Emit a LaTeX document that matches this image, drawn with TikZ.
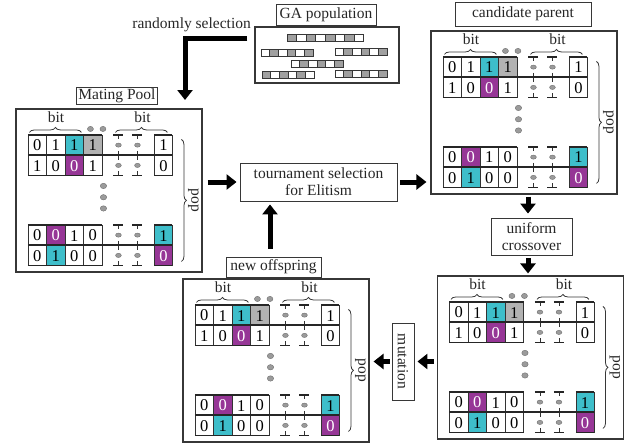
\documentclass[tikz,border=0pt]{standalone}
\usepackage{fontspec}
\setmainfont{Liberation Serif}
\usetikzlibrary{arrows.meta,decorations.pathreplacing,calc}

\definecolor{cellcyan}{RGB}{62,190,202}
\definecolor{cellpurple}{RGB}{150,54,150}
\definecolor{cellgray}{RGB}{178,178,178}
\definecolor{linegray}{RGB}{55,55,55}
\definecolor{dotgray}{RGB}{155,155,155}
\definecolor{dotedge}{RGB}{110,110,110}
\definecolor{barg}{RGB}{160,160,160}

\tikzset{
  lbl/.style={font=\fontsize{15.5}{17}\selectfont, inner sep=0pt, text=black!85},
  titlebox/.style={draw=linegray, line width=0.9pt, inner sep=0pt, align=center,
    font=\fontsize{15.5}{17}\selectfont, text=black!85},
  panel/.style={draw=linegray, line width=1.1pt, minimum width=186pt,
    minimum height=163pt, inner sep=0pt},
  hline/.style={line width=1.7pt, draw=black!85},
  vline/.style={line width=0.9pt, draw=black!80},
  digit/.style={font=\fontsize{16.5}{17}\selectfont, inner sep=0pt},
  dot/.style={fill=dotgray, draw=dotedge, line width=0.4pt},
  bigarrow/.style={line width=5pt, draw=black, line join=miter,
    -{Triangle[length=10pt,width=15pt]}},
  brc/.style={decorate, decoration={brace, amplitude=5pt}, line width=0.8pt, draw=linegray},
  barcell/.style={draw=linegray, line width=0.8pt},
}

% two-row bit matrix: #1 name prefix, #2 top y, #3 row 1 cells, #4 row 1 last cell,
% #5 row 2 cells, #6 row 2 last cell
\newcommand\bitmat[6]{%
  \pgfmathsetmacro\rT{#2}%
  \pgfmathsetmacro\rM{#2+20.3}%
  \pgfmathsetmacro\rB{#2+40.6}%
  \foreach \dg/\fc/\tc [count=\i from 0] in {#3}{%
    \fill[\fc] ({12.5+18.5*\i},\rT) rectangle ++(18.5,20.3);
    \node[digit,text=\tc] (#1-a\i) at ({21.75+18.5*\i},{\rT+10.6}) {\dg};}
  \foreach \dg/\fc/\tc in {#4}{%
    \fill[\fc] (139,\rT) rectangle (157,\rM);
    \node[digit,text=\tc] (#1-ae) at (148,{\rT+10.6}) {\dg};}
  \foreach \dg/\fc/\tc [count=\i from 0] in {#5}{%
    \fill[\fc] ({12.5+18.5*\i},\rM) rectangle ++(18.5,20.3);
    \node[digit,text=\tc] (#1-b\i) at ({21.75+18.5*\i},{\rM+10.6}) {\dg};}
  \foreach \dg/\fc/\tc in {#6}{%
    \fill[\fc] (139,\rM) rectangle (157,\rB);
    \node[digit,text=\tc] (#1-be) at (148,{\rM+10.6}) {\dg};}
  \foreach \x in {12.5,31,49.5,68,86.5,139,157}
    \draw[vline] (\x,\rT) -- (\x,\rB);
  \foreach \x in {103,122}{%
    \draw[vline] (\x,\rT) -- ++(0,4.5) (\x,{\rM-4.5}) -- ++(0,9) (\x,\rB) -- ++(0,-4.5);
    \path[dot] (\x,{\rT+10.15}) ellipse (2.9pt and 2.1pt)
               (\x,{\rM+10.15}) ellipse (2.9pt and 2.1pt);}
  \draw[hline] (12.5,\rT) -- (87,\rT) (98,\rT) -- (108,\rT) (117,\rT) -- (127,\rT)
               (139,\rT) -- (157,\rT);
  \draw[hline] (12.5,\rM) -- (157,\rM);
  \draw[hline] (12.5,\rB) -- (87,\rB) (98,\rB) -- (108,\rB) (117,\rB) -- (127,\rB)
               (139,\rB) -- (157,\rB);
}

% contents of one population panel, drawn from its top left corner
\newcommand\panelbody[1]{%
  \draw[brc] (14,24) -- (66,24);
  \node[lbl] (#1-bitl) at (40.5,9) {bit};
  \draw[brc] (100,24) -- (152,24);
  \node[lbl] (#1-bitr) at (127,9) {bit};
  \path[dot] (75,20.5) ellipse (3pt and 2.6pt) (87.5,20.5) ellipse (3pt and 2.6pt);
  \foreach \yy in {77.5,88.8,100} \path[dot] (88,\yy) ellipse (3.2pt and 2.7pt);
  \draw[brc] (166,31) -- (166,153);
  \node[lbl, rotate=-90] (#1-pop) at (178,92) {pop};
  \bitmat{#1-t}{26.5}%
    {0/white/black,1/white/black,1/cellcyan/black,1/cellgray/black}{1/white/black}%
    {1/white/black,0/white/black,0/cellpurple/white,1/white/black}{0/white/black}
  \bitmat{#1-b}{116.5}%
    {0/white/black,0/cellpurple/white,1/white/black,0/white/black}{1/cellcyan/black}%
    {0/white/black,1/cellcyan/black,0/white/black,0/white/black}{0/cellpurple/white}
}

% one chromosome bar: #1 x, #2 y, #3 cell width, #4 cell colours
\newcommand\chromo[4]{%
  \foreach \cc [count=\i from 0] in {#4}
    \draw[barcell, fill=\cc] ({#1+#3*\i},#2) rectangle ++(#3,7);
}

\begin{document}
\begin{tikzpicture}[x=1pt, y=-1pt]
\useasboundingbox (0,0) rectangle (639,447);

% GA population
\node[titlebox, minimum width=100pt, minimum height=21pt] (gatitle) at (326,14.5) {GA population};
\node[draw=linegray, line width=1.1pt, minimum width=144pt, minimum height=56pt, inner sep=0pt] (pop) at (327,55) {};
\chromo{287}{34}{9.6}{barg,white,barg,white,barg,white,barg,white}
\chromo{261}{49}{8.7}{white,barg,white,barg,white,barg}
\chromo{335}{48}{8.7}{white,barg,white,barg,white,barg}
\chromo{291}{60}{8.7}{white,barg,white,barg,white,barg}
\chromo{262}{71}{8.7}{barg,white,barg,white,barg,white}
\chromo{335}{70}{8.7}{white,barg,white,barg,white,barg}

\node[lbl, anchor=east] (rsel) at (251,25) {randomly selection};

% population panels
\node[panel] (mp) at (109,190.5) {};
\node[panel] (cand) at (524,112.5) {};
\node[panel] (xres) at (530.5,357.5) {};
\node[panel] (ofs) at (276,360.5) {};
\begin{scope}[shift={(mp.north west)}] \panelbody{mp} \end{scope}
\begin{scope}[shift={(cand.north west)}] \panelbody{cand} \end{scope}
\begin{scope}[shift={(xres.north west)}] \panelbody{xres} \end{scope}
\begin{scope}[shift={(ofs.north west)}] \panelbody{ofs} \end{scope}

% titles and operator boxes
\node[titlebox, fill=white, minimum width=81pt, minimum height=17pt] (mptitle) at (117,95.5) {Mating Pool};
\node[titlebox, minimum width=136pt, minimum height=24pt] (candtitle) at (523,14) {candidate parent};
\node[titlebox, fill=white, minimum width=95pt, minimum height=20pt] (ofstitle) at (273.5,267) {new offspring};
\node[titlebox, minimum width=157pt, minimum height=38pt] (tour) at (318.5,182) {tournament selection\\for Elitism};
\node[titlebox, minimum width=81pt, minimum height=37pt] (cross) at (531.5,236.5) {uniform\\crossover};
\node[titlebox, minimum width=22pt, minimum height=77pt] (mut) at (403,361.5) {};
\node[lbl, rotate=-90] (muttext) at (mut.center) {mutation};

% flow arrows
\coordinate (rsstart) at ($(pop.north west)+(-7,12)$);
\coordinate (rsend) at (185,100);
\draw[bigarrow] (rsstart) -| (rsend);
\draw[bigarrow, shorten <=5pt, shorten >=3pt] (mp.east |- tour.west) -- (tour.west);
\draw[bigarrow, shorten <=3pt, shorten >=4pt] (tour.east) -- (cand.west |- tour.east);
\coordinate (cx) at ($(cross.north)+(-3.5,0)$);
\draw[bigarrow, shorten <=2pt, shorten >=4pt] (cx |- cand.south) -- (cx);
\draw[bigarrow, shorten <=3pt, shorten >=2pt] (cx |- cross.south) -- (cx |- xres.north);
\draw[bigarrow, shorten <=3pt, shorten >=3pt] (xres.west |- mut.east) -- (mut.east);
\draw[bigarrow, shorten <=2pt, shorten >=4pt] (mut.west) -- (ofs.east |- mut.west);
\coordinate (ux) at ($(ofstitle.north)+(-3.5,0)$);
\draw[bigarrow, shorten <=8pt, shorten >=3pt] (ux) -- (ux |- tour.south);
\end{tikzpicture}
\end{document}
